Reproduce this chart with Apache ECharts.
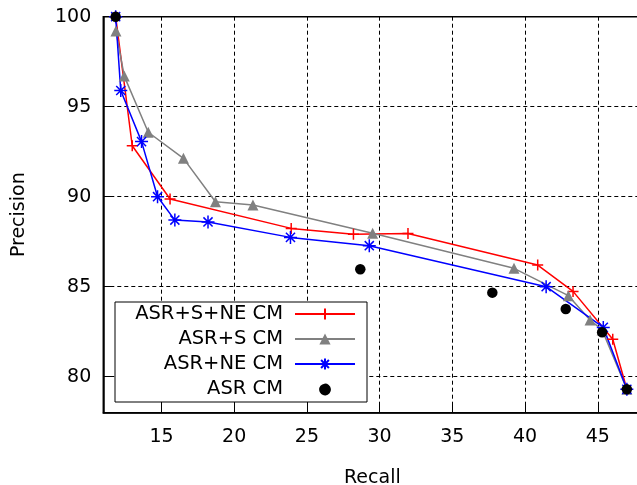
<!DOCTYPE html>
<html><head><meta charset="utf-8">
<script src="https://cdn.jsdelivr.net/npm/echarts@6/dist/echarts.min.js"></script>
<style>html,body{margin:0;padding:0;background:#fff}#c{width:637px;height:485px}</style>
</head><body><div id="c"></div>
<script>
const seriesNames = ['ASR+S+NE CM', 'ASR+S CM', 'ASR+NE CM', 'ASR CM'];
const redRecall = [11.85, 12.99, 15.59, 23.92, 28.2, 31.95, 40.87, 43.3, 46.03, 47.0];
const redPrecision = [100, 92.83, 89.87, 88.24, 87.91, 87.96, 86.2, 84.74, 82.08, 79.3];
const grayRecall = [11.87, 12.44, 14.09, 16.51, 18.71, 21.29, 29.52, 39.24, 42.98, 44.47, 45.3, 47.0];
const grayPrecision = [99.2, 96.7, 93.58, 92.13, 89.72, 89.54, 87.97, 86.02, 84.5, 83.15, 82.6, 79.3];
const blueRecall = [11.85, 12.2, 13.63, 14.73, 15.92, 18.2, 23.87, 29.29, 41.45, 45.38, 47.0];
const bluePrecision = [100, 95.9, 93.06, 90.0, 88.7, 88.6, 87.74, 87.28, 85.0, 82.74, 79.3];
const blackRecall = [11.85, 28.67, 37.75, 42.8, 45.3, 47.0];
const blackPrecision = [100, 85.97, 84.67, 83.76, 82.47, 79.3];

const zip = (a, b) => a.map((v, i) => [v, b[i]]);
const FONT = 'DejaVu Sans';
const plusPath = 'path://M0,6L12,6M6,0L6,12';
const starPath = 'path://M0,6L12,6M6,0L6,12M1.8,1.8L10.2,10.2M1.8,10.2L10.2,1.8';
const dotIcon = 'path://M0,0M13,13M12,6.5A5.5,5.5,0,1,1,11.99,6.4Z';

const chart = echarts.init(document.getElementById('c'), null, {renderer: 'canvas'});
chart.setOption({
  animation: false,
  backgroundColor: '#fff',
  grid: {left: 103.3, top: 16.7, bottom: 72.3, right: -4.4, outerBoundsMode: 'none', containLabel: false,
         show: true, borderColor: '#000', borderWidth: 1.5, backgroundColor: 'transparent'},
  xAxis: {
    type: 'value', min: 11, max: 48, splitNumber: 7,
    name: 'Recall', nameLocation: 'middle', nameGap: 56,
    nameTextStyle: {fontFamily: FONT, fontSize: 19, color: '#000'},
    axisLine: {show: true, lineStyle: {color: '#000', width: 1.5}},
    axisTick: {show: true, inside: true, length: 9, lineStyle: {color: '#000', width: 1}},
    axisLabel: {fontFamily: FONT, fontSize: 19, color: '#000', margin: 15, showMinLabel: false, showMaxLabel: false},
    splitLine: {show: true, lineStyle: {color: '#000', type: [4, 3], width: 1}}
  },
  yAxis: {
    type: 'value', min: 78, max: 100, splitNumber: 5,
    name: 'Precision', nameLocation: 'middle', nameGap: 75, nameRotate: 90,
    nameTextStyle: {fontFamily: FONT, fontSize: 19, color: '#000'},
    axisLine: {show: true, lineStyle: {color: '#000', width: 1.5}},
    axisTick: {show: true, inside: true, length: 9, lineStyle: {color: '#000', width: 1}},
    axisLabel: {fontFamily: FONT, fontSize: 19, color: '#000', margin: 12, showMinLabel: false},
    splitLine: {show: true, lineStyle: {color: '#000', type: [4, 3], width: 1}}
  },
  legend: {
    orient: 'vertical', left: 115, top: 302,
    align: 'right',
    itemWidth: 60, itemHeight: 14, itemGap: 5,
    padding: [2, 11, 3, 15],
    backgroundColor: '#fff', borderColor: '#000', borderWidth: 1,
    data: [seriesNames[0], seriesNames[1], seriesNames[2], {name: seriesNames[3], icon: dotIcon}],
    formatter: '{a|{name}}',
    textStyle: {
      rich: {a: {fontFamily: FONT, fontSize: 19.5, color: '#000', width: 153, align: 'right', padding: [0, 7, 0, 0], lineHeight: 20}}
    }
  },
  series: [
    {name: seriesNames[0], type: 'line', data: zip(redRecall, redPrecision),
     symbol: plusPath, symbolSize: 11, showAllSymbol: true,
     lineStyle: {color: '#ff0000', width: 1.5},
     itemStyle: {color: '#ff0000', borderColor: '#ff0000', borderWidth: 1.5}},
    {name: seriesNames[1], type: 'line', data: zip(grayRecall, grayPrecision),
     symbol: 'triangle', symbolSize: 11, showAllSymbol: true,
     lineStyle: {color: '#808080', width: 1.5},
     itemStyle: {color: '#808080'}},
    {name: seriesNames[2], type: 'line', data: zip(blueRecall, bluePrecision),
     symbol: starPath, symbolSize: 13, showAllSymbol: true,
     lineStyle: {color: '#0000ff', width: 1.5},
     itemStyle: {color: '#0000ff', borderColor: '#0000ff', borderWidth: 1.5}},
    {name: seriesNames[3], type: 'scatter', data: zip(blackRecall, blackPrecision), z: 5,
     symbol: 'circle', symbolSize: 10.5,
     itemStyle: {color: '#000', opacity: 1}}
  ]
});
</script></body></html>
